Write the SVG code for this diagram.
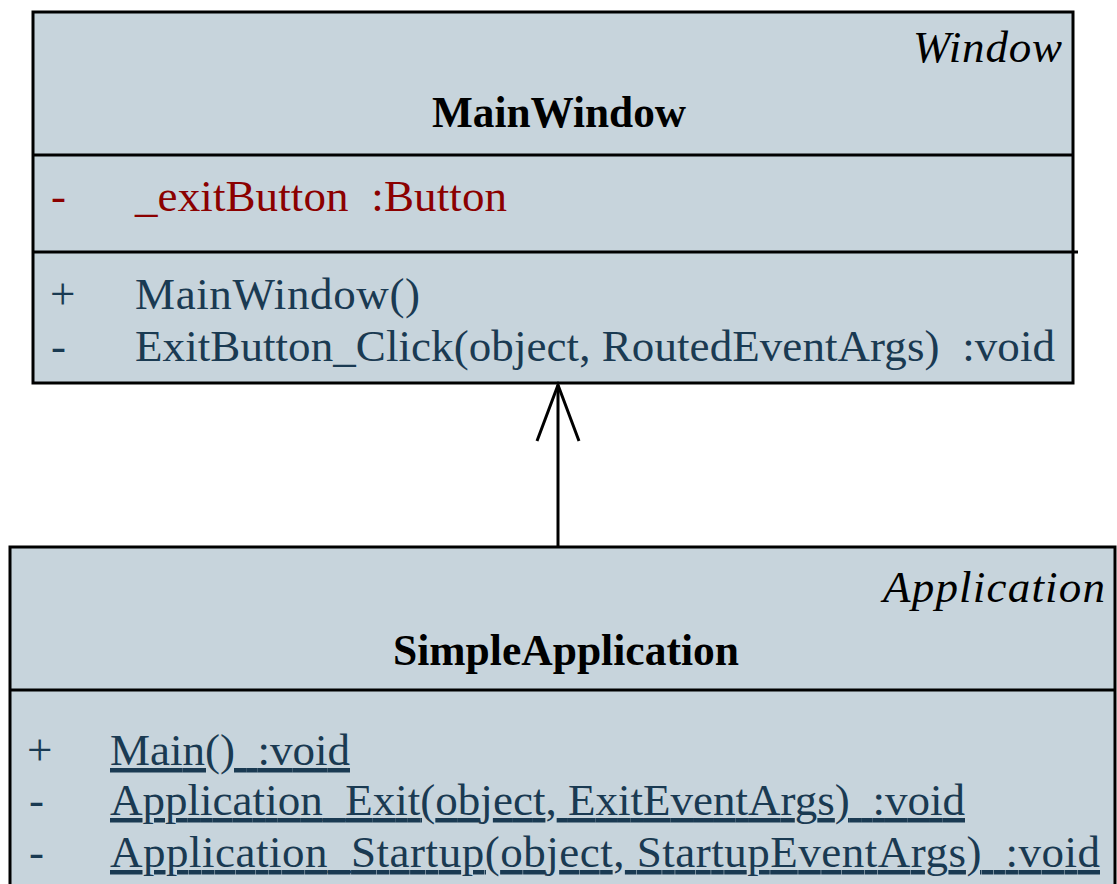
<svg xmlns="http://www.w3.org/2000/svg" width="1117" height="884" viewBox="0 0 1117 884" xml:space="preserve">
<style>
.box{fill:#c7d4dc;stroke:#000;stroke-width:3}
.div{stroke:#000;stroke-width:3}
text{font-family:"Liberation Serif","Times New Roman",serif;white-space:pre}
.st{font-size:45px;font-style:italic;fill:#000}
.nm{font-size:44px;font-weight:bold;fill:#000}
.attr{font-size:45px;fill:#8b0000}
.op{font-size:45px;fill:#1a3a52}
.ul{text-decoration:underline}
.conn{stroke:#000;stroke-width:3;fill:none}
</style>
<defs>
<marker id="open" markerUnits="userSpaceOnUse" markerWidth="80" markerHeight="60" refX="0" refY="0" viewBox="-60 -30 80 60" orient="auto" overflow="visible">
<path d="M-56,-21 L0,0 L-56,21" fill="none" stroke="#000" stroke-width="3"/>
</marker>
</defs>
<g id="MainWindow">
<rect class="box" x="33" y="12" width="1040" height="371"/>
<line class="div" x1="33" y1="155" x2="1073" y2="155"/>
<line class="div" x1="33" y1="252" x2="1078" y2="252"/>
<text class="st" x="913" y="62" textLength="149">Window</text>
<text class="nm" x="432" y="127" textLength="254" lengthAdjust="spacingAndGlyphs">MainWindow</text>
<text class="attr" x="51" y="211">-</text>
<text class="attr" x="135" y="211" textLength="372">_exitButton  :Button</text>
<text class="op" x="50" y="309">+</text>
<text class="op" x="135" y="309" textLength="285">MainWindow()</text>
<text class="op" x="51" y="361">-</text>
<text class="op" x="135" y="361" textLength="920">ExitButton_Click(object, RoutedEventArgs)  :void</text>
</g>
<g id="SimpleApplication">
<rect class="box" x="10" y="547" width="1105" height="400"/>
<line class="div" x1="10" y1="690" x2="1115" y2="690"/>
<text class="st" x="883" y="602" textLength="222">Application</text>
<text class="nm" x="393" y="665" textLength="346" lengthAdjust="spacingAndGlyphs">SimpleApplication</text>
<text class="op" x="27" y="765">+</text>
<text class="op ul" x="110" y="765" textLength="240">Main()  :void</text>
<text class="op" x="29" y="815">-</text>
<text class="op ul" x="110" y="815" textLength="855">Application_Exit(object, ExitEventArgs)  :void</text>
<text class="op" x="29" y="867">-</text>
<text class="op ul" x="110" y="867" textLength="990">Application_Startup(object, StartupEventArgs)  :void</text>
</g>
<g id="connectors">
<line class="conn" x1="558" y1="547" x2="558" y2="385" marker-end="url(#open)"/>
</g>
</svg>
